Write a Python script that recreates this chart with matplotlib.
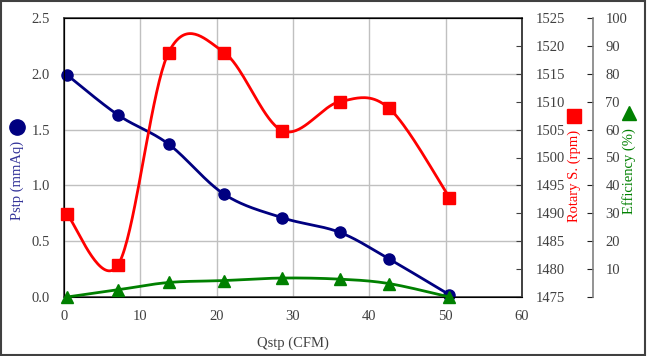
import numpy as np
import matplotlib.pyplot as plt
from matplotlib.lines import Line2D
from matplotlib.patches import Rectangle

plt.rcParams['font.family'] = ['Liberation Serif', 'DejaVu Serif']

# data
qstp = [0.4, 7.1, 13.7, 21.0, 28.6, 36.1, 42.6, 50.5]
pstp = [1.99, 1.63, 1.37, 0.92, 0.71, 0.58, 0.34, 0.02]
rpm = [1489.8, 1480.8, 1518.8, 1518.8, 1504.8, 1510.0, 1508.8, 1492.8]
eff = [0.0, 2.6, 5.2, 5.9, 6.8, 6.4, 4.8, 0.0]

x_ticks = [0, 10, 20, 30, 40, 50, 60]
left_ticks = [0.0, 0.5, 1.0, 1.5, 2.0, 2.5]
rpm_ticks = list(range(1475, 1526, 5))
eff_ticks = list(range(0, 101, 10))


def smooth(x, y, n=40):  # excel-like smoothed line (catmull-rom / bezier)
    p = np.column_stack([x, y]).astype(float)
    p = np.vstack([p[0], p, p[-1]])
    out = []
    t = np.linspace(0, 1, n)[:, None]
    for i in range(1, len(p) - 2):
        p0, p1, p2, p3 = p[i - 1], p[i], p[i + 1], p[i + 2]
        c1 = p1 + (p2 - p0) / 6
        c2 = p2 - (p3 - p1) / 6
        seg = (1 - t) ** 3 * p1 + 3 * (1 - t) ** 2 * t * c1 + 3 * (1 - t) * t ** 2 * c2 + t ** 3 * p2
        out.append(seg)
    out = np.vstack(out)
    return out[:, 0], out[:, 1]


tcol = '#404040'
fig = plt.figure(figsize=(6.47, 3.56), dpi=100)
ax = fig.add_axes([64 / 647, 59 / 356, 458 / 647, 279 / 356])

ax.set_xlim(0, 60)
ax.set_ylim(0, 2.5)
ax.set_xticks(x_ticks)
ax.set_yticks(left_ticks)
ax.set_yticklabels(['%.1f' % v for v in left_ticks])
ax.grid(True, color='#c0c0c0', lw=1)
ax.set_axisbelow(True)
ax.tick_params(colors=tcol, labelsize=10.5, length=0)
ax.tick_params(axis='y', pad=10)
ax.tick_params(axis='x', pad=9)
for s in ax.spines.values():
    s.set_color(tcol)
    s.set_linewidth(1.2)
ax.set_xlabel('Qstp (CFM)', fontsize=10.5, color=tcol, labelpad=10)

ax2 = ax.twinx()
ax2.set_ylim(1475, 1525)
ax2.set_yticks(rpm_ticks)
ax2.tick_params(colors=tcol, labelsize=10.5, direction='in', length=4, pad=10)
ax2.spines['right'].set_color(tcol)
ax2.spines['right'].set_linewidth(1.2)

ax3 = ax.twinx()
ax3.set_ylim(0, 100)
ax3.set_yticks(eff_ticks)
ax3.set_yticklabels([''] + [str(v) for v in eff_ticks[1:]])
ax3.spines['right'].set_position(('axes', 1.155))
ax3.spines['right'].set_color('#808080')
ax3.spines['right'].set_linewidth(1.2)
for s in ['top', 'left', 'bottom']:
    ax3.spines[s].set_visible(False)
ax3.tick_params(colors=tcol, labelsize=10.5, direction='in', length=4, pad=9)
ax3.tick_params(axis='y', color='#202020')

# series
sx, sy = smooth(qstp, eff)
ax3.plot(sx, sy, color='#008000', lw=2, clip_on=False, zorder=3)
ax3.plot(qstp, eff, ls='none', marker='^', ms=8, color='#008000', clip_on=False, zorder=4)

sx, sy = smooth(qstp, pstp)
ax.plot(sx, sy, color='#000080', lw=2, zorder=3)
ax.plot(qstp, pstp, ls='none', marker='o', ms=8, color='#000080', clip_on=False, zorder=4)

sx, sy = smooth(qstp, rpm)
ax2.plot(sx, sy, color='#ff0000', lw=2, zorder=3)
ax2.plot(qstp, rpm, ls='none', marker='s', ms=8, color='#ff0000', clip_on=False, zorder=4)

# make the efficiency and rpm series draw above the left axes
ax2.set_zorder(ax.get_zorder() + 1)
ax3.set_zorder(ax.get_zorder() + 2)
ax2.patch.set_visible(False)
ax3.patch.set_visible(False)

# axis titles with their marker symbols
fig.text(17 / 647, 1 - 180 / 356, 'Pstp (mmAq)', rotation=90, ha='center', va='center',
         fontsize=10.5, color='#333399')
fig.add_artist(Line2D([17 / 647], [1 - 127 / 356], marker='o', ms=11, color='#000080'))
fig.text(574 / 647, 1 - 176 / 356, 'Rotary S. (rpm)', rotation=90, ha='center', va='center',
         fontsize=10.5, color='#ff0000')
fig.add_artist(Line2D([574 / 647], [1 - 116 / 356], marker='s', ms=10, color='#ff0000'))
fig.text(629 / 647, 1 - 171 / 356, 'Efficiency (%)', rotation=90, ha='center', va='center',
         fontsize=10.5, color='#008000')
fig.add_artist(Line2D([629 / 647], [1 - 113 / 356], marker='^', ms=10, color='#008000'))

fig.add_artist(Rectangle((0.002, 0.003), 0.995, 0.993, transform=fig.transFigure,
                         fill=False, edgecolor='#404040', lw=1.5))

fig.savefig('out.png', dpi=100)
